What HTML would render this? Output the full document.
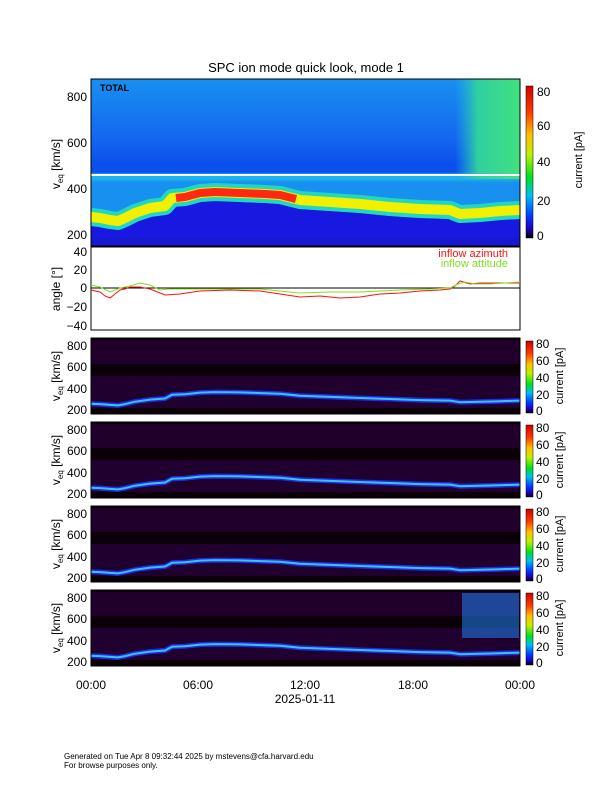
<!DOCTYPE html><html><head><style>body{margin:0;background:#fff}svg{display:block;font-family:"Liberation Sans",sans-serif}</style></head><body>
<svg width="612" height="792" viewBox="0 0 612 792" xmlns="http://www.w3.org/2000/svg">
<defs>
<linearGradient id="cb" x1="0" y1="1" x2="0" y2="0">
<stop offset="0" stop-color="#000"/><stop offset="0.06" stop-color="#2000c0"/><stop offset="0.15" stop-color="#0040ff"/><stop offset="0.28" stop-color="#00c0f0"/><stop offset="0.4" stop-color="#00e020"/><stop offset="0.55" stop-color="#c0f000"/><stop offset="0.68" stop-color="#ffc000"/><stop offset="0.82" stop-color="#ff4000"/><stop offset="1" stop-color="#d00000"/></linearGradient>
<linearGradient id="topbg" x1="0" y1="0" x2="0" y2="1">
<stop offset="0" stop-color="#1890f0"/><stop offset="0.35" stop-color="#1468f0"/><stop offset="0.5" stop-color="#0c50ec"/><stop offset="0.56" stop-color="#0c50ec"/><stop offset="0.57" stop-color="#18b8f0"/><stop offset="0.6" stop-color="#1cb0f0"/><stop offset="0.62" stop-color="#1890f0"/><stop offset="1" stop-color="#1890f0"/></linearGradient>
<linearGradient id="rgt" x1="0" y1="0" x2="1" y2="0"><stop offset="0" stop-color="#20c0d0" stop-opacity="0"/><stop offset="0.35" stop-color="#30d0a0"/><stop offset="1" stop-color="#40e080"/></linearGradient>
<g id="p">
<rect x="91" y="0" width="429" height="76" fill="#0c0008"/>
<rect x="91" y="2" width="429" height="24" fill="#260034" opacity="0.8"/>
<rect x="91" y="38" width="429" height="32" fill="#24003a" opacity="0.8"/>
<polyline fill="none" stroke="#2828e0" stroke-width="5" stroke-linejoin="round" points="91,65.8 100,66.1 110,66.9 118,67.4 125,66.1 135,63.7 150,61.6 165,60.5 172,56.8 185,56.2 200,54.6 215,54.1 240,54.4 265,55.2 280,55.7 300,57.8 330,58.9 360,60 390,61 420,62.1 450,62.6 460,64.2 480,63.7 500,63.2 520,62.6"/>
<polyline fill="none" stroke="#30c8f0" stroke-width="2" stroke-linejoin="round" points="91,65.8 100,66.1 110,66.9 118,67.4 125,66.1 135,63.7 150,61.6 165,60.5 172,56.8 185,56.2 200,54.6 215,54.1 240,54.4 265,55.2 280,55.7 300,57.8 330,58.9 360,60 390,61 420,62.1 450,62.6 460,64.2 480,63.7 500,63.2 520,62.6"/>
<rect x="91" y="0" width="429" height="76" fill="none" stroke="#000"/>
<g font-size="12" text-anchor="end"><text x="87" y="12">800</text><text x="87" y="33">600</text><text x="87" y="55">400</text><text x="87" y="76">200</text></g>
<text transform="translate(60,38) rotate(-90)" font-size="12" text-anchor="middle">v<tspan font-size="8" dy="3">eq</tspan><tspan dy="-3"> [km/s]</tspan></text>
<rect x="526" y="3" width="7" height="72" fill="url(#cb)" stroke="#000" stroke-width="0.5"/>
<g font-size="12"><text x="536" y="10">80</text><text x="536" y="27">60</text><text x="536" y="44">40</text><text x="536" y="61">20</text><text x="536" y="77">0</text></g>
<text transform="translate(563,38) rotate(-90)" font-size="11" text-anchor="middle">current [pA]</text>
</g>
</defs>
<text x="306" y="72" font-size="13" text-anchor="middle">SPC ion mode quick look, mode 1</text>
<svg x="91" y="79" width="429" height="167" viewBox="91 79 429 167">
<rect x="91" y="79" width="429" height="167" fill="url(#topbg)"/>
<rect x="455" y="79" width="65" height="100" fill="url(#rgt)"/>
<rect x="91" y="174" width="429" height="2" fill="#fff"/>
<polygon fill="#1818e0" points="91,226 100,227 110,229 118,230 125,227 135,222 150,217 165,215 172,207 185,206 200,202 215,201 240,202 265,203 280,204 300,209 330,211 360,213 390,216 420,218 450,219 460,223 480,222 500,220 520,219 520,246 91,246"/>
<polyline fill="none" stroke="#20d8c0" stroke-width="18" stroke-linejoin="round" points="91,217 100,218 110,220 118,221 125,218 135,213 150,208 165,206 172,198 185,197 200,193 215,192 240,193 265,194 280,195 300,200 330,202 360,204 390,207 420,209 450,210 460,214 480,213 500,211 520,210"/>
<polyline fill="none" stroke="#f0f000" stroke-width="10" stroke-linejoin="round" points="91,217 100,218 110,220 118,221 125,218 135,213 150,208 165,206 172,198 185,197 200,193 215,192 240,193 265,194 280,195 300,200 330,202 360,204 390,207 420,209 450,210 460,214 480,213 500,211 520,210"/>
<polyline fill="none" stroke="#ff2810" stroke-width="8" stroke-linejoin="round" points="176,198 185,197 200,193 215,192 240,193 265,194 280,195 296,199"/>
<rect x="91" y="238" width="429" height="8" fill="#1818d0"/>
</svg>
<rect x="91" y="79" width="429" height="167" fill="none" stroke="#000"/>
<text x="100" y="91" font-size="9" font-weight="bold">TOTAL</text>
<g font-size="12" text-anchor="end"><text x="87" y="101">800</text><text x="87" y="147">600</text><text x="87" y="193">400</text><text x="87" y="239">200</text></g>
<text transform="translate(60,164) rotate(-90)" font-size="12" text-anchor="middle">v<tspan font-size="8" dy="3">eq</tspan><tspan dy="-3"> [km/s]</tspan></text>
<rect x="526" y="86" width="7" height="152" fill="url(#cb)" stroke="#000" stroke-width="0.5"/>
<g font-size="12"><text x="537" y="96">80</text><text x="537" y="130">60</text><text x="537" y="166">40</text><text x="537" y="205">20</text><text x="537" y="240">0</text></g>
<text transform="translate(582,160) rotate(-90)" font-size="11" text-anchor="middle">current [pA]</text>
<rect x="91" y="247" width="429" height="83" fill="#fff" stroke="#000"/>
<line x1="91" y1="288" x2="520" y2="288" stroke="#000"/>
<polyline fill="none" stroke="#ff1010" points="91,290 100,292 105,296 110,298 115,294 120,290 125,289 130,287 140,287 150,289 155,291 165,295 180,294 200,291 230,290 260,291 280,294 300,297 320,296 340,298 360,297 380,294 400,293 420,291 440,290 450,289 455,286 460,281 470,284 480,283 500,283 520,283"/>
<polyline fill="none" stroke="#80e020" points="91,285 100,287 110,292 120,288 130,286 140,283 150,285 160,290 170,289 200,289 230,289 260,289 280,291 300,293 330,292 360,292 380,291 400,290 430,289 450,288 458,284 465,282 475,284 490,284 520,282"/>
<g font-size="12" text-anchor="end"><text x="87" y="256">40</text><text x="87" y="274">20</text><text x="87" y="292">0</text><text x="87" y="311">−20</text><text x="87" y="330">−40</text></g>
<text transform="translate(60,289) rotate(-90)" font-size="12" text-anchor="middle">angle [°]</text>
<text x="508" y="257" font-size="11" fill="#ff1010" text-anchor="end">inflow azimuth</text>
<text x="508" y="267" font-size="11" fill="#80e020" text-anchor="end">inflow attitude</text>
<use href="#p" y="338"/>
<use href="#p" y="422"/>
<use href="#p" y="506"/>
<use href="#p" y="590"/>
<rect x="462" y="593" width="57" height="45" fill="#2080f0" opacity="0.55"/>
<g font-size="12" text-anchor="middle"><text x="91" y="689">00:00</text><text x="198" y="689">06:00</text><text x="305" y="689">12:00</text><text x="413" y="689">18:00</text><text x="520" y="689">00:00</text><text x="305" y="703">2025-01-11</text></g>
<text x="64" y="759" font-size="8">Generated on Tue Apr  8 09:32:44 2025 by mstevens@cfa.harvard.edu</text>
<text x="64" y="768" font-size="8">For browse purposes only.</text>
</svg>
</body></html>
